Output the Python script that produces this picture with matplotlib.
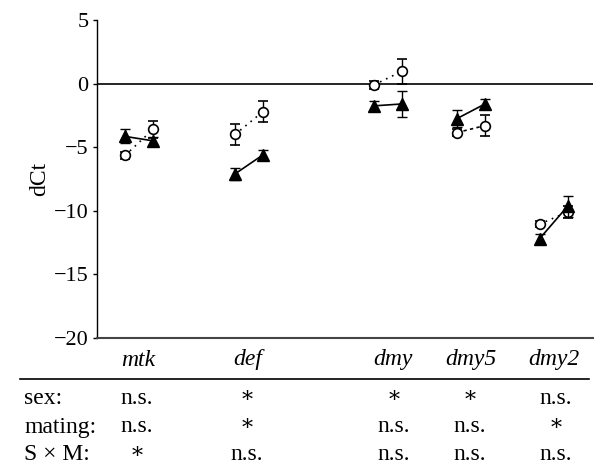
import matplotlib
matplotlib.use("Agg")
import matplotlib.pyplot as plt
import matplotlib.transforms as mtransforms
import numpy as np

plt.rcParams['font.family'] = ['Liberation Serif', 'DejaVu Serif']
plt.rcParams['mathtext.fontset'] = 'stix'

genes = ["mtk", "def", "dmy", "dmy5", "dmy2"]
# open circles (dotted line): two conditions per gene
circ_vals = [[-5.65, -3.6], [-4.0, -2.2], [-0.1, 0.97], [-3.85, -3.3], [-11.05, -10.1]]
circ_err = [[0.25, 0.65], [0.8, 0.85], [0.3, 1.0], [0.3, 0.8], [0.25, 0.45]]
# filled triangles (solid line)
tri_vals = [[-4.15, -4.5], [-7.1, -5.6], [-1.75, -1.6], [-2.75, -1.6], [-12.2, -9.65]]
tri_err = [[0.55, 0.3], [0.5, 0.4], [0.4, 1.05], [0.7, 0.4], [0.35, 0.8]]

row_labels = ["sex:", "mating:", "S \u00d7 M:"]
sig_table = [
    ["n.s.", "\u2217", "\u2217", "\u2217", "n.s."],
    ["n.s.", "\u2217", "n.s.", "n.s.", "\u2217"],
    ["\u2217", "n.s.", "n.s.", "n.s.", "n.s."],
]
yticks = [5, 0, -5, -10, -15, -20]

# layout (pixel-based positions, 10 px per unit)
group_x = np.array([13.9, 24.9, 38.8, 47.1, 55.35]) - 9.7
offset = 1.4
circ_styles = [(0, (1, 3)), (0, (1, 3)), (0, (1, 3)), (0, (2, 2)), (0, (1, 3))]

W, H = 594, 468
fig = plt.figure(figsize=(W / 100, H / 100), dpi=100)
ax = fig.add_axes([97 / W, 1 - 338 / H, 496 / W, 318 / H])

for i, g in enumerate(genes):
    xs = [group_x[i] - offset, group_x[i] + offset]
    ax.errorbar(xs, circ_vals[i], yerr=circ_err[i], fmt='o', color='black',
                mfc='white', mec='black', ms=7, mew=1.2, capsize=3.5,
                elinewidth=1.0, capthick=1.0, zorder=3)
    ax.plot(xs, circ_vals[i], color='black', lw=1.2, ls=circ_styles[i], zorder=2)
for i, g in enumerate(genes):
    xs = [group_x[i] - offset, group_x[i] + offset]
    ax.errorbar(xs, tri_vals[i], yerr=tri_err[i], fmt='^', color='black',
                mfc='black', mec='black', ms=8, capsize=3.5,
                elinewidth=1.0, capthick=1.0, zorder=5)
    ax.plot(xs, tri_vals[i], color='black', lw=1.2, ls='-', zorder=4)

ax.axhline(0, color='black', lw=1.2, zorder=1)
ax.set_xlim(0, 49.6)
ax.set_ylim(-20, 5)
ax.set_yticks(yticks)
ax.set_yticklabels([str(t).replace('-', '\u2212') for t in yticks], fontsize=16)
ax.tick_params(axis='y', direction='out', length=3, width=1, pad=3)
ax.set_xticks([])
for s in ['top', 'right']:
    ax.spines[s].set_visible(False)
ax.spines['left'].set_linewidth(1.0)
ax.spines['bottom'].set_color('#444444')
ax.spines['bottom'].set_linewidth(1.5)
ax.set_ylabel("dCt", fontsize=17, labelpad=3)

trans = mtransforms.blended_transform_factory(ax.transData, fig.transFigure)

def fy(px):
    return 1 - px / H

label_x = np.array([13.8, 24.8, 39.3, 47.1, 55.4]) - 9.7
for i, g in enumerate(genes):
    fig.text(label_x[i], fy(360), g, transform=trans, ha='center', va='center',
             fontsize=17, style='italic')

fig.add_artist(plt.Line2D([20 / W, 589 / W], [fy(379), fy(379)],
                          transform=fig.transFigure, color='black', lw=1.2))

row_y = [399, 427, 455]
col_x = np.array([13.7, 24.7, 39.4, 47.0, 55.6]) - 9.7
for r, lab in enumerate(row_labels):
    fig.text(24 / W, fy(row_y[r]), lab, ha='left', va='center', fontsize=17)
    for c, val in enumerate(sig_table[r]):
        is_star = val == "\u2217"
        fig.text(col_x[c], fy(row_y[r] - (2 if is_star else 0)), val,
                 transform=trans, ha='center', va='center',
                 fontsize=16 if is_star else 17)

fig.savefig("out.png", dpi=100)
